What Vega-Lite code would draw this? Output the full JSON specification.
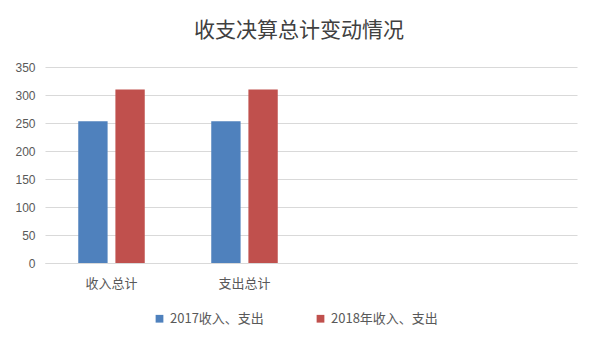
{
  "$schema": "https://vega.github.io/schema/vega-lite/v6.json",
  "width": 532,
  "height": 196,
  "autosize": {"type": "none"},
  "padding": {"left": 45, "top": 67, "right": 21, "bottom": 91},
  "background": "white",
  "title": {
    "text": "收支决算总计变动情况",
    "fontSize": 21,
    "font": "Noto Sans CJK SC",
    "fontWeight": "normal",
    "color": "#404040",
    "anchor": "middle",
    "dx": -12,
    "offset": 20
  },
  "data": {
    "values": [
      {"cat": "收入总计", "series": "2017收入、支出", "value": 253},
      {"cat": "收入总计", "series": "2018年收入、支出", "value": 310},
      {"cat": "支出总计", "series": "2017收入、支出", "value": 253},
      {"cat": "支出总计", "series": "2018年收入、支出", "value": 310}
    ]
  },
  "mark": {"type": "bar"},
  "encoding": {
    "x": {
      "field": "cat",
      "type": "nominal",
      "sort": null,
      "scale": {"domain": ["收入总计", "支出总计", " ", "  "], "paddingInner": 0.5, "paddingOuter": 0.25},
      "axis": {
        "title": null,
        "labelAngle": 0,
        "labelFontSize": 13,
        "labelFont": "Noto Sans CJK SC",
        "labelColor": "#595959",
        "domainColor": "#d9d9d9",
        "domainWidth": 1,
        "ticks": false,
        "labelPadding": 14,
        "grid": false
      }
    },
    "xOffset": {"field": "series", "type": "nominal", "scale": {"paddingInner": 0.21}},
    "y": {
      "field": "value",
      "type": "quantitative",
      "scale": {"domain": [0, 350]},
      "axis": {
        "title": null,
        "values": [0, 50, 100, 150, 200, 250, 300, 350],
        "domain": false,
        "ticks": false,
        "gridColor": "#d9d9d9",
        "labelColor": "#595959",
        "labelFontSize": 12,
        "labelFont": "Liberation Sans",
        "labelPadding": 10
      }
    },
    "color": {
      "field": "series",
      "type": "nominal",
      "scale": {"range": ["#4F81BD", "#C0504D"]},
      "legend": {
        "orient": "none",
        "legendX": 108,
        "legendY": 245,
        "direction": "horizontal",
        "title": null,
        "symbolType": "square",
        "symbolSize": 60,
        "labelFontSize": 13,
        "labelFont": "Noto Sans CJK SC",
        "labelColor": "#595959",
        "columnPadding": 50
      }
    }
  },
  "config": {"view": {"stroke": null}}
}
